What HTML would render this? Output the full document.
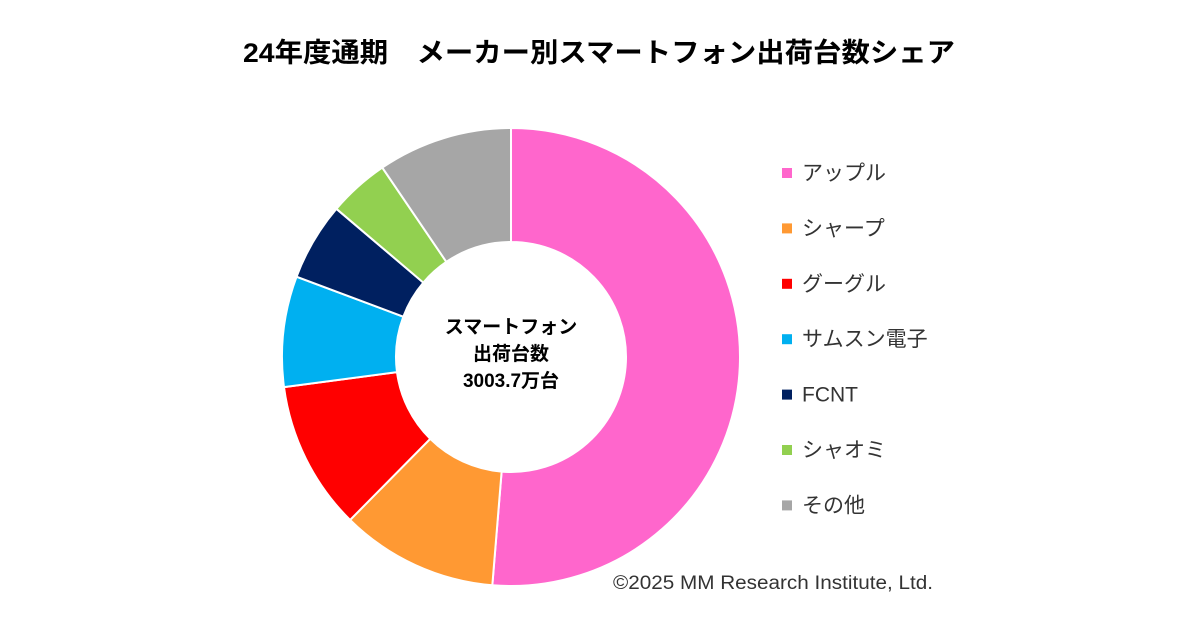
<!DOCTYPE html>
<html><head><meta charset="utf-8"><style>
body{margin:0;background:#fff;}
#c{position:relative;width:1200px;height:630px;font-family:"Liberation Sans","Noto Sans CJK JP",sans-serif;}
</style></head><body>
<div id="c">
<svg width="1200" height="630" id="svg">
<text x="599" y="62" text-anchor="middle" font-size="27" font-weight="bold" fill="#000" font-family="Liberation Sans, Noto Sans CJK JP, sans-serif" textLength="712" lengthAdjust="spacingAndGlyphs">24年度通期　メーカー別スマートフォン出荷台数シェア</text>
<g id="slices"></g>
<g id="legend"></g>
<text x="511" y="333" text-anchor="middle" font-size="19" font-weight="bold" font-family="Liberation Sans, Noto Sans CJK JP, sans-serif">スマートフォン</text>
<text x="511" y="360" text-anchor="middle" font-size="19" font-weight="bold" font-family="Liberation Sans, Noto Sans CJK JP, sans-serif">出荷台数</text>
<text x="511" y="387" text-anchor="middle" font-size="19" font-weight="bold" font-family="Liberation Sans, Noto Sans CJK JP, sans-serif">3003.7万台</text>
<text x="613" y="589" font-size="19" fill="#333" font-family="Liberation Sans, Noto Sans CJK JP, sans-serif" textLength="320" lengthAdjust="spacingAndGlyphs">©2025 MM Research Institute, Ltd.</text>
</svg>
</div>
<script>
const categories=["アップル","シャープ","グーグル","サムスン電子","FCNT","シャオミ","その他"];
const shares=[51.3,11.1,10.5,7.8,5.5,4.3,9.5];
const colors=["#ff66cc","#ff9933","#ff0000","#00b0f0","#002060","#92d050","#a6a6a6"];
const NS="http://www.w3.org/2000/svg";
const cx=511,cy=357,R=229,r=115;
const total=shares.reduce((a,b)=>a+b,0);
function pt(a,rad){return [cx+rad*Math.sin(a),cy-rad*Math.cos(a)];}
let acc=0;
const g=document.getElementById('slices');
shares.forEach((v,i)=>{
 const a0=acc/total*2*Math.PI;acc+=v;const a1=acc/total*2*Math.PI;
 const lg=(a1-a0)>Math.PI?1:0;
 const [x0,y0]=pt(a0,R),[x1,y1]=pt(a1,R),[x2,y2]=pt(a1,r),[x3,y3]=pt(a0,r);
 const p=document.createElementNS(NS,'path');
 p.setAttribute('d',`M${x0},${y0}A${R},${R} 0 ${lg} 1 ${x1},${y1}L${x2},${y2}A${r},${r} 0 ${lg} 0 ${x3},${y3}Z`);
 p.setAttribute('fill',colors[i]);p.setAttribute('stroke','#fff');p.setAttribute('stroke-width','2');
 
 
 g.appendChild(p);
});
const lgd=document.getElementById('legend');
categories.forEach((c,i)=>{
 const y=173+i*55.4;
 const s=document.createElementNS(NS,'rect');
 s.setAttribute('x',782);s.setAttribute('y',y-5);s.setAttribute('width',10);s.setAttribute('height',10);s.setAttribute('fill',colors[i]);
 
 
 lgd.appendChild(s);
 const t=document.createElementNS(NS,'text');
 t.setAttribute('x',802);t.setAttribute('y',y+7);t.setAttribute('font-size','21');t.setAttribute('fill','#333');
 t.setAttribute('font-family','Liberation Sans, Noto Sans CJK JP, sans-serif');
 t.textContent=c;
 
 
 lgd.appendChild(t);
});
</script>
</body></html>
